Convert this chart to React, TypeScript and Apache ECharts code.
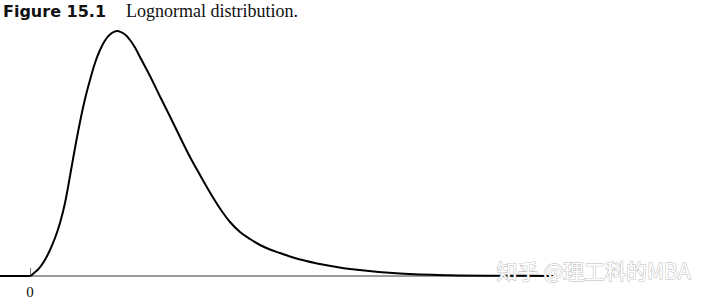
import React, { useEffect, useRef } from "react";
import * as echarts from "echarts";

const xValues = [-3, 0, 0.4, 0.8, 1.2, 1.6, 2.0, 2.5, 3.0, 3.5, 4.0, 4.5, 5.0, 5.5, 6.0, 6.5, 7.0, 7.5, 8.0, 8.7, 9.5, 10.0, 10.5, 11.0, 12.0, 13.0, 14.0, 15.0, 16.0, 17.0, 18.0, 19.0, 20.0, 21.0, 22.0, 23.0, 24.0, 25.0, 26.0, 27.0, 28.7, 32.0, 37.0, 42.0, 47.0, 52.3];
const densityValues = [0, 0, 0.012, 0.026, 0.046, 0.072, 0.104, 0.152, 0.212, 0.292, 0.4, 0.512, 0.616, 0.708, 0.784, 0.852, 0.904, 0.942, 0.966, 0.98, 0.966, 0.944, 0.914, 0.876, 0.8, 0.718, 0.638, 0.556, 0.476, 0.404, 0.334, 0.27, 0.216, 0.176, 0.148, 0.124, 0.106, 0.092, 0.078, 0.066, 0.05, 0.028, 0.01, 0.003, 0.001, 0];
const tickValues = [0];
const titleBold = "Figure 15.1";
const titleText = "Lognormal distribution.";
const watermark = "知乎 @理工科的MBA";

export default function App() {
  const ref = useRef<HTMLDivElement>(null);
  useEffect(() => {
    if (!ref.current) return;
    const chart = echarts.init(ref.current, null, { renderer: "svg" });
    const data = xValues.map((x, i) => [x, densityValues[i]]);
    chart.setOption({
      animation: false,
      backgroundColor: "#ffffff",
      title: {
        left: 3,
        top: 0,
        padding: 0,
        text: `{a|${titleBold}}{b|${titleText}}`,
        textStyle: {
          fontWeight: "normal",
          rich: {
            a: { fontFamily: "DejaVu Sans", fontWeight: "bold", fontSize: 16, color: "#111", width: 123, height: 22 },
            b: { fontFamily: "Liberation Serif", fontWeight: "normal", fontSize: 18, color: "#111", height: 22 },
          },
        },
      },
      grid: { left: 0, right: 160, top: 26, bottom: 28 },
      xAxis: {
        type: "value",
        min: -3,
        max: 52.3,
        splitLine: { show: false },
        axisLine: { show: true, lineStyle: { color: "#7a7a7a", width: 1.5 } },
        axisTick: { show: true, inside: true, length: 8, customValues: tickValues, lineStyle: { color: "#777", width: 1 } },
        axisLabel: {
          show: true,
          customValues: tickValues,
          margin: 8,
          fontFamily: "Liberation Serif",
          fontSize: 15,
          color: "#111",
        },
      },
      yAxis: { type: "value", min: 0, max: 1, show: false, splitLine: { show: false } },
      series: [
        {
          type: "line",
          data,
          smooth: 0.35,
          showSymbol: false,
          lineStyle: { color: "#000", width: 2 },
          z: 3,
        },
      ],
      graphic: [
        {
          type: "text",
          left: 496,
          top: 259,
          z: 10,
          style: {
            text: watermark,
            fontFamily: "Noto Sans CJK SC",
            fontSize: 21,
            fill: "#ffffff",
            stroke: "#b8b8b8",
            lineWidth: 1,
          },
        },
      ],
    });
    return () => chart.dispose();
  }, []);
  return <div ref={ref} style={{ position: "fixed", left: 0, top: 0, width: 713, height: 304 }} />;
}
